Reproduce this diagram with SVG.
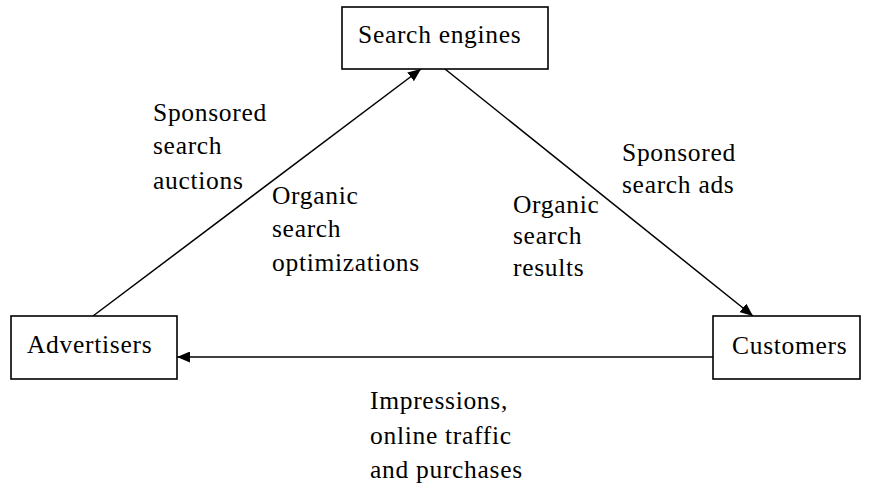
<svg xmlns="http://www.w3.org/2000/svg" width="869" height="485" viewBox="0 0 869 485">
<style>
.box{fill:#fff;stroke:#000;stroke-width:1.6}
text{font-family:"Liberation Serif","Times New Roman",serif;font-size:25.5px;letter-spacing:0.7px;fill:#000}
.c{stroke:#000;stroke-width:1.5;fill:none;marker-end:url(#ah)}
</style>
<defs>
<marker id="ah" viewBox="0 0 13 11" refX="13" refY="5.5" markerWidth="13" markerHeight="11" markerUnits="userSpaceOnUse" orient="auto">
<path d="M0,0 L13,5.5 L0,11 Z" fill="#000"/>
</marker>
</defs>
<rect width="869" height="485" fill="#fff"/>
<g id="connectors">
<line class="c" x1="93" y1="316" x2="421" y2="69"/>
<line class="c" x1="445" y1="69" x2="753" y2="316"/>
<line class="c" x1="713" y1="357" x2="177" y2="357"/>
</g>
<g id="search-engines">
<rect class="box" x="342" y="7" width="206" height="62"/>
<text x="358" y="43">Search engines</text>
</g>
<g id="advertisers">
<rect class="box" x="11" y="316" width="166" height="63"/>
<text x="27" y="353">Advertisers</text>
</g>
<g id="customers">
<rect class="box" x="713" y="316" width="147" height="63"/>
<text x="732" y="354">Customers</text>
</g>
<g id="labels">
<text x="153" y="121">Sponsored</text>
<text x="153" y="154">search</text>
<text x="153" y="189">auctions</text>
<text x="272" y="204">Organic</text>
<text x="272" y="237">search</text>
<text x="272" y="271">optimizations</text>
<text x="622" y="161">Sponsored</text>
<text x="622" y="193">search ads</text>
<text x="513" y="213">Organic</text>
<text x="513" y="244">search</text>
<text x="513" y="276">results</text>
<text x="370" y="409">Impressions,</text>
<text x="370" y="444">online traffic</text>
<text x="370" y="478">and purchases</text>
</g>
</svg>
